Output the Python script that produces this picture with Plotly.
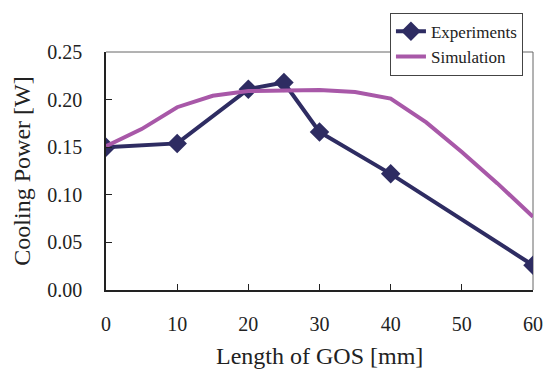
import plotly.graph_objects as go

exp_x = [0, 10, 20, 25, 30, 40, 60]
exp_y = [0.150, 0.154, 0.211, 0.218, 0.166, 0.122, 0.026]

sim_x = [0, 5, 10, 15, 20, 25, 30, 35, 40, 45, 50, 55, 60]
sim_y = [0.151, 0.169, 0.192, 0.204, 0.209, 0.210, 0.210, 0.208, 0.201, 0.176, 0.145, 0.112, 0.077]

x_ticks = [0, 10, 20, 30, 40, 50, 60]
y_ticks = [0.00, 0.05, 0.10, 0.15, 0.20, 0.25]

font = "Liberation Serif"
ink = "#222222"

fig = go.Figure()
fig.add_trace(go.Scatter(
    x=exp_x, y=exp_y, name="Experiments", mode="lines+markers",
    line=dict(color="#2E2C62", width=4),
    marker=dict(symbol="diamond", size=15, color="#2E2C62"),
))
fig.add_trace(go.Scatter(
    x=sim_x, y=sim_y, name="Simulation", mode="lines",
    line=dict(color="#A858A8", width=4),
))

# top and right frame lines (thin gray)
fig.add_shape(type="line", xref="x domain", yref="y domain", x0=0, x1=1, y0=1, y1=1,
              line=dict(color="#666666", width=1), layer="below")
fig.add_shape(type="line", xref="x domain", yref="y domain", x0=1, x1=1, y0=0, y1=1,
              line=dict(color="#666666", width=1), layer="below")

# x-axis title placed as text below the tick labels
fig.add_annotation(text="Length of GOS [mm]", xref="paper", yref="paper",
                   x=0.5, y=-0.215, xanchor="center", yanchor="top", showarrow=False,
                   font=dict(family=font, size=24, color=ink))

fig.update_layout(
    width=547, height=372,
    margin=dict(l=106, r=14, t=52, b=82),
    paper_bgcolor="white", plot_bgcolor="white",
    font=dict(family=font, color=ink),
    showlegend=True,
    legend=dict(
        x=0.665, y=1.165, xanchor="left", yanchor="top",
        bgcolor="white", bordercolor="#444444", borderwidth=1,
        font=dict(family=font, size=17, color=ink),
        tracegroupgap=2,
    ),
    xaxis=dict(
        range=[0, 60], tickvals=x_ticks, ticktext=[str(v) for v in x_ticks],
        showgrid=False, zeroline=False, automargin=False,
        showline=True, linecolor=ink, linewidth=1.5,
        ticks="inside", ticklen=6, tickcolor=ink,
        ticklabelstandoff=15,
        tickfont=dict(family=font, size=20, color=ink),
    ),
    yaxis=dict(
        range=[0, 0.25], tickvals=y_ticks, ticktext=[f"{v:.2f}" for v in y_ticks],
        showgrid=False, zeroline=False, automargin=False,
        showline=True, linecolor=ink, linewidth=1.5,
        ticks="inside", ticklen=6, tickcolor=ink,
        ticklabelstandoff=18,
        tickfont=dict(family=font, size=20, color=ink),
        title=dict(text="Cooling Power [W]", font=dict(family=font, size=24, color=ink), standoff=10),
    ),
)

fig.write_html("out.html")
